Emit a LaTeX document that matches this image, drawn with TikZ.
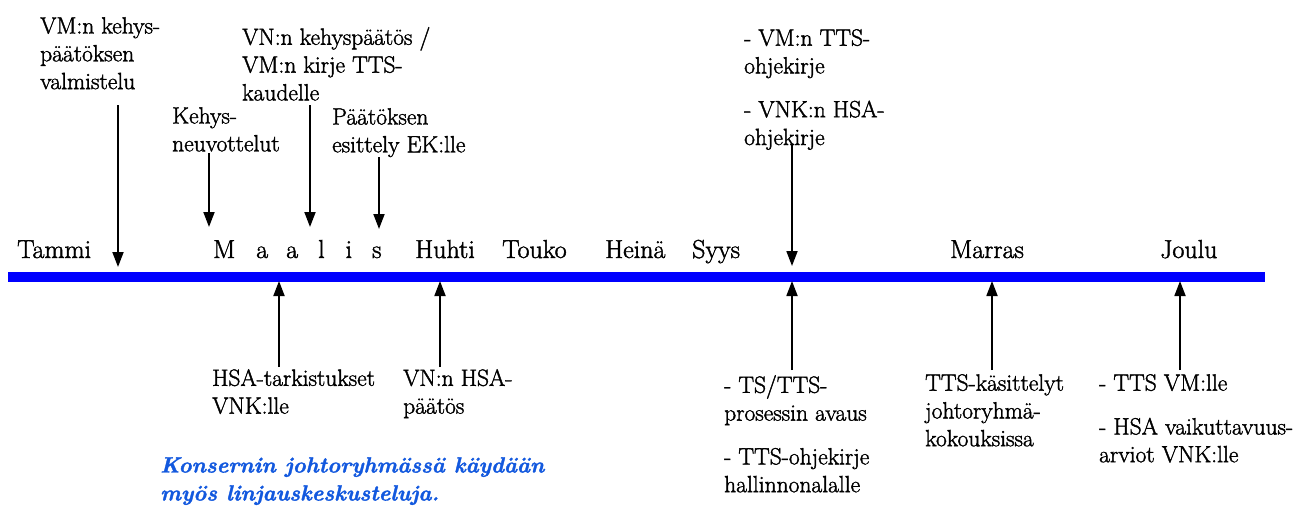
\documentclass[tikz,border=0pt]{standalone}
\usepackage{fontspec}
\setmainfont{Latin Modern Roman}[FakeBold=1.6]
\usetikzlibrary{arrows.meta}
\definecolor{axisblue}{RGB}{0,0,255}
\definecolor{notecolor}{RGB}{18,88,222}
\begin{document}
\begin{tikzpicture}[x=1pt,y=-1pt,
  month/.style={anchor=base west,inner sep=0pt,font=\fontsize{26}{30}\selectfont},
  label/.style={anchor=north west,inner sep=0pt,align=left,font=\fontsize{23.5}{27.8}\selectfont},
  pointer/.style={line width=1.8pt,-{Triangle[width=11pt,length=15pt]}},
  note/.style={anchor=north west,inner sep=0pt,align=left,text=notecolor,
    font=\fontsize{22}{28}\selectfont\bfseries\itshape}]
\useasboundingbox (0,0) rectangle (1296,507);

% time axis
\coordinate (axL) at (8,276.5);
\coordinate (axR) at (1265,276.5);
\draw[axisblue,line width=10pt] (axL) -- (axR);

% months
\node[month] (tammi)  at (17,258) {Tammi};
\node[month] (maalis) at (213,258) {M\hspace{21pt}a\hspace{18pt}a\hspace{20pt}l\hspace{21pt}i\hspace{20pt}s};
\node[month] (huhti)  at (415,258) {Huhti};
\node[month] (touko)  at (502,258) {Touko};
\node[month] (heina)  at (605,258) {Heinä};
\node[month] (syys)   at (692,258) {Syys};
\node[month] (marras) at (950,258) {Marras};
\node[month] (joulu)  at (1160,258) {Joulu};

% events above the axis
\node[label] (valm)  at (40,17)   {VM:n kehys-\\päätöksen\\valmistelu};
\node[label] (neuv)  at (172,107) {Kehys-\\neuvottelut};
\node[label] (kehys) at (242,27)  {VN:n kehyspäätös /\\VM:n kirje TTS-\\kaudelle};
\node[label] (ek)    at (332,108) {Päätöksen\\esittely EK:lle};
\node[label] (ohje)  at (744,29)  {- VM:n TTS-\\ohjekirje\\[16pt]- VNK:n HSA-\\ohjekirje};

% events below the axis
\node[label] (tark)  at (212,369) {HSA-tarkistukset\\VNK:lle};
\node[label] (hsap)  at (403,369) {VN:n HSA-\\päätös};
\node[label] (avaus) at (724,375) {- TS/TTS-\\prosessin avaus\\[16pt]- TTS-ohjekirje\\hallinnonalalle};
\node[label] (kok)   at (925,374) {TTS-käsittelyt\\johtoryhmä-\\kokouksissa};
\node[label] (vm)    at (1099,374) {- TTS VM:lle\\[16pt]- HSA vaikuttavuus-\\arviot VNK:lle};

% remark
\node[note] (huom) at (160,457) {Konsernin johtoryhmässä käydään\\myös linjauskeskusteluja.};

% arrow ends
\coordinate (a1) at (118,105);  \coordinate (b1) at (118,267);
\coordinate (a2) at (209,153);  \coordinate (b2) at (209,227);
\coordinate (a3) at (310,105);  \coordinate (b3) at (310,227);
\coordinate (a4) at (379,157);  \coordinate (b4) at (379,229);
\coordinate (a5) at (792,145);  \coordinate (b5) at (792,266);
\coordinate (c1) at (279,367);  \coordinate (d1) at (279,281);
\coordinate (c2) at (440,367);  \coordinate (d2) at (440,281);
\coordinate (c3) at (792,370);  \coordinate (d3) at (792,281);
\coordinate (c4) at (992,370);  \coordinate (d4) at (992,281);
\coordinate (c5) at (1180,370); \coordinate (d5) at (1180,281);

\foreach \i in {1,...,5} {
  \draw[pointer] (a\i) -- (b\i);
  \draw[pointer] (c\i) -- (d\i);
}
\end{tikzpicture}
\end{document}
